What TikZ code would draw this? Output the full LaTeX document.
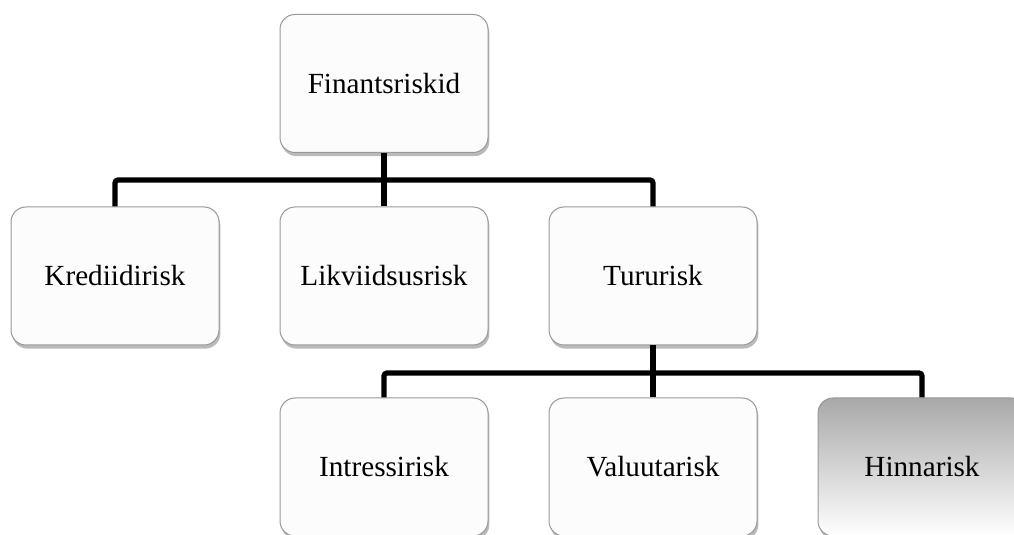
\documentclass[tikz,border=0pt]{standalone}
\usepackage{fontspec}
\setmainfont{Liberation Serif}
\usepackage{tikz}
\usetikzlibrary{shadows}

\begin{document}
\begin{tikzpicture}[x=0.5pt, y=-0.5pt]
  \clip (0,0) rectangle (1014,535);
  \begin{scope} [
    every node/.style={draw=black!40, line width=0.5pt, fill=black!1,
      rounded corners=7.5pt, minimum width=104pt, minimum height=69pt,
      font=\fontsize{14.6pt}{17pt}\selectfont, text=black,
      drop shadow={shadow xshift=0.7pt, shadow yshift=-1.8pt, opacity=0.45, fill=black!60}},
    shaded/.style={top color=black!34, bottom color=white},
    link/.style={line width=2.6pt, rounded corners=1.5pt}]
    \node (fin) at (384, 83.5) {Finantsriskid};
    \node (kred) at (115, 276) {Krediidirisk};
    \node (lik) at (384, 276) {Likviidsusrisk};
    \node (tur) at (653, 276) {Tururisk};
    \node (intr) at (384, 467) {Intressirisk};
    \node (val) at (653, 467) {Valuutarisk};
    \node [shaded] (hinn) at (922, 467) {Hinnarisk};
    \coordinate (busa) at (384, 180);
    \coordinate (busb) at (653, 373);
    % first level
    \draw [link] (fin.south) -- (lik.north);
    \draw [link] (kred.north) |- (busa) -| (tur.north);
    % second level
    \draw [link] (tur.south) -- (val.north);
    \draw [link] (intr.north) |- (busb) -| (hinn.north);
  \end{scope}
\end{tikzpicture}
\end{document}
